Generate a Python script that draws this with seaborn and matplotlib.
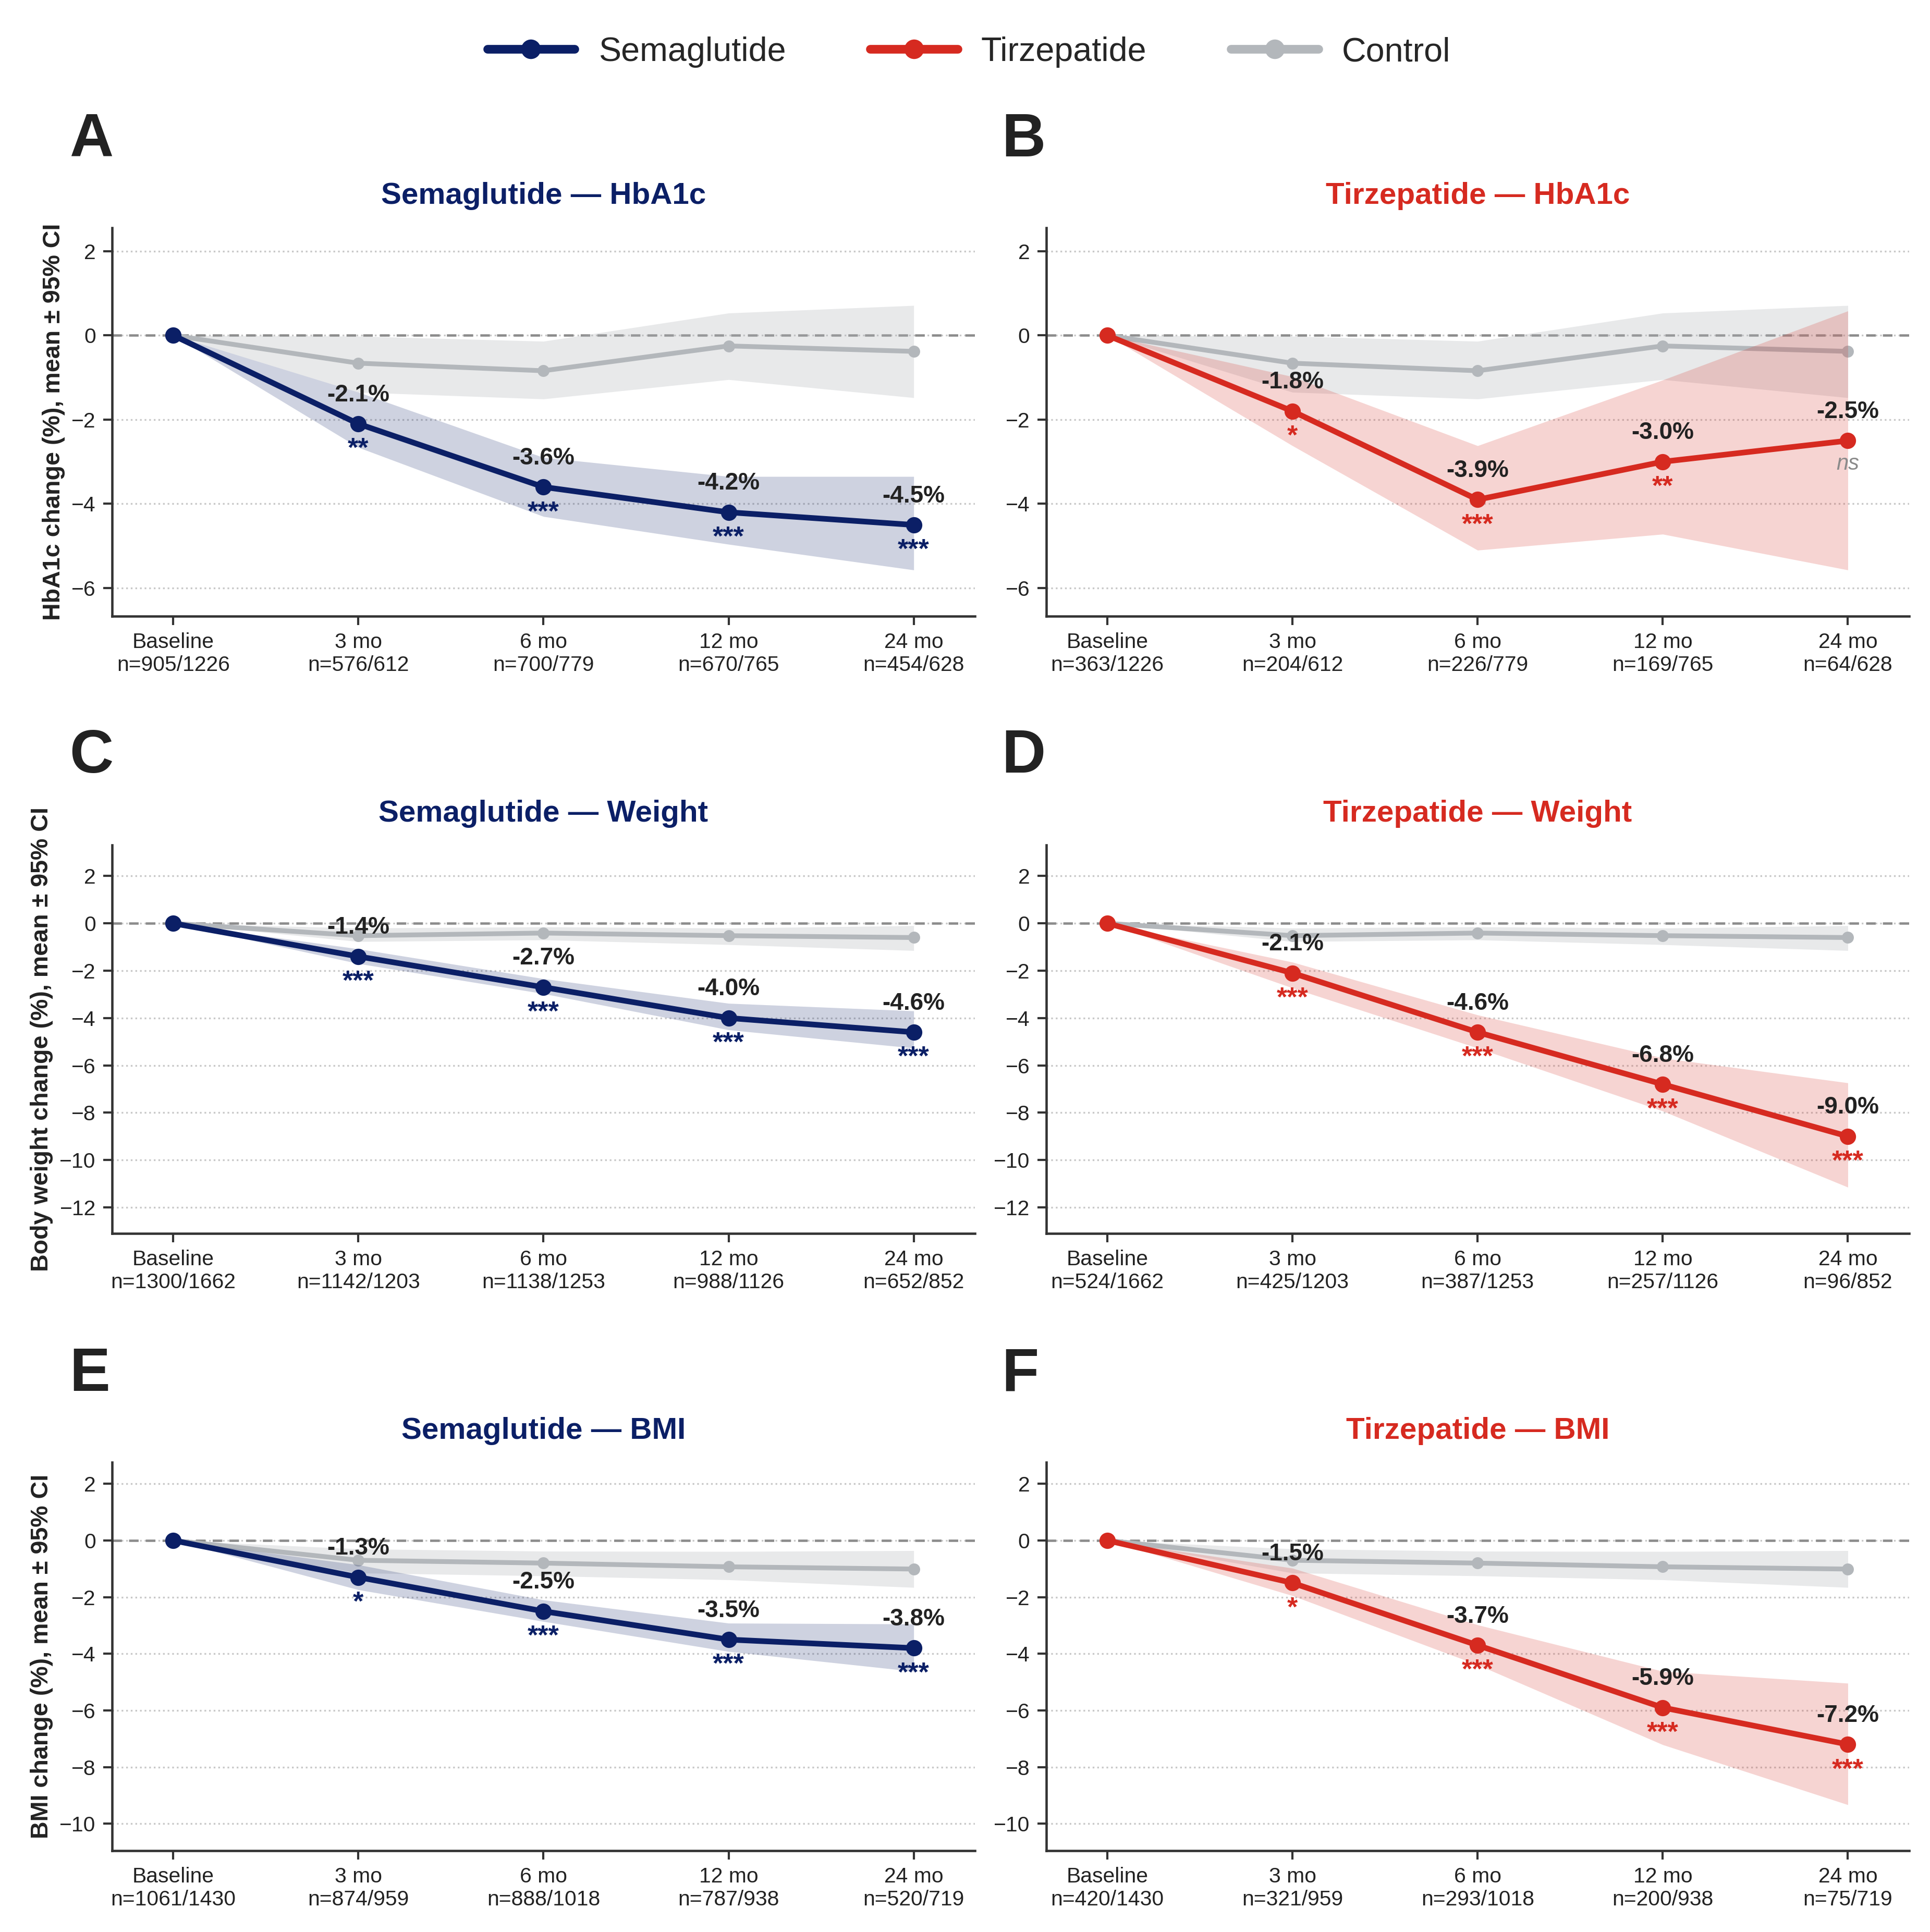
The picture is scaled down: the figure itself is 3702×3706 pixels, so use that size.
import numpy as np
import pandas as pd
import matplotlib
matplotlib.use("Agg")
import matplotlib.pyplot as plt
from matplotlib.lines import Line2D
import seaborn as sns

# ---- data ----
timepoints = ["Baseline", "3 mo", "6 mo", "12 mo", "24 mo"]

# HbA1c
sema_hba1c_n = ["905/1226", "576/612", "700/779", "670/765", "454/628"]
sema_hba1c_mean = [0, -2.1, -3.6, -4.2, -4.5]
sema_hba1c_lo = [0, -2.66, -4.30, -4.96, -5.57]
sema_hba1c_hi = [0, -1.35, -2.90, -3.35, -3.35]
sema_hba1c_sig = ["", "**", "***", "***", "***"]

tirz_hba1c_n = ["363/1226", "204/612", "226/779", "169/765", "64/628"]
tirz_hba1c_mean = [0, -1.8, -3.9, -3.0, -2.5]
tirz_hba1c_lo = [0, -2.62, -5.10, -4.72, -5.57]
tirz_hba1c_hi = [0, -0.98, -2.62, -1.06, 0.58]
tirz_hba1c_sig = ["", "*", "***", "**", "ns"]

ctrl_hba1c_mean = [0, -0.66, -0.84, -0.25, -0.38]
ctrl_hba1c_lo = [0, -1.35, -1.51, -1.05, -1.48]
ctrl_hba1c_hi = [0, -0.02, -0.14, 0.53, 0.71]

# Body weight
sema_weight_n = ["1300/1662", "1142/1203", "1138/1253", "988/1126", "652/852"]
sema_weight_mean = [0, -1.4, -2.7, -4.0, -4.6]
sema_weight_lo = [0, -1.70, -2.97, -4.50, -5.27]
sema_weight_hi = [0, -1.08, -2.34, -3.38, -3.70]
sema_weight_sig = ["", "***", "***", "***", "***"]

tirz_weight_n = ["524/1662", "425/1203", "387/1253", "257/1126", "96/852"]
tirz_weight_mean = [0, -2.1, -4.6, -6.8, -9.0]
tirz_weight_lo = [0, -2.73, -5.27, -7.93, -11.15]
tirz_weight_hi = [0, -1.64, -3.87, -5.69, -6.74]
tirz_weight_sig = ["", "***", "***", "***", "***"]

ctrl_weight_mean = [0, -0.52, -0.41, -0.52, -0.60]
ctrl_weight_lo = [0, -0.77, -0.70, -0.90, -1.15]
ctrl_weight_hi = [0, -0.20, -0.15, -0.20, -0.10]

# BMI
sema_bmi_n = ["1061/1430", "874/959", "888/1018", "787/938", "520/719"]
sema_bmi_mean = [0, -1.3, -2.5, -3.5, -3.8]
sema_bmi_lo = [0, -1.74, -2.86, -3.92, -4.62]
sema_bmi_hi = [0, -0.86, -2.10, -2.92, -2.95]
sema_bmi_sig = ["", "*", "***", "***", "***"]

tirz_bmi_n = ["420/1430", "321/959", "293/1018", "200/938", "75/719"]
tirz_bmi_mean = [0, -1.5, -3.7, -5.9, -7.2]
tirz_bmi_lo = [0, -1.95, -4.39, -7.21, -9.33]
tirz_bmi_hi = [0, -0.98, -2.98, -4.62, -5.04]
tirz_bmi_sig = ["", "*", "***", "***", "***"]

ctrl_bmi_mean = [0, -0.70, -0.80, -0.93, -1.01]
ctrl_bmi_lo = [0, -1.15, -1.25, -1.39, -1.66]
ctrl_bmi_hi = [0, -0.30, -0.38, -0.39, -0.36]

# ---- style ----
SEMA = "#0b1f66"
TIRZ = "#d62a20"
CTRL = "#b3b7bb"
INK = "#222222"

sns.set_theme(style="white")
plt.rcParams["font.family"] = ["Liberation Sans", "DejaVu Sans"]
plt.rcParams["axes.unicode_minus"] = True

fig = plt.figure(figsize=(3702 / 300, 3706 / 300), dpi=300)

lefts = [0.0581, 0.5421]
rows = [(0.681, 0.882), (0.3616, 0.5625), (0.0421, 0.243)]
letter_y = [0.942, 0.623, 0.303]
letter_x = [0.036, 0.519]

panels = [
    # row, col, letter, drug, color, metric, ylabel, mean, lo, hi, sig, n, ctrl arrays, ylim, yticks
    (0, 0, "A", "Semaglutide", SEMA, "HbA1c", "HbA1c change (%), mean ± 95% CI",
     sema_hba1c_mean, sema_hba1c_lo, sema_hba1c_hi, sema_hba1c_sig, sema_hba1c_n,
     ctrl_hba1c_mean, ctrl_hba1c_lo, ctrl_hba1c_hi, (-6.67, 2.55), range(-6, 3, 2)),
    (0, 1, "B", "Tirzepatide", TIRZ, "HbA1c", None,
     tirz_hba1c_mean, tirz_hba1c_lo, tirz_hba1c_hi, tirz_hba1c_sig, tirz_hba1c_n,
     ctrl_hba1c_mean, ctrl_hba1c_lo, ctrl_hba1c_hi, (-6.67, 2.55), range(-6, 3, 2)),
    (1, 0, "C", "Semaglutide", SEMA, "Weight", "Body weight change (%), mean ± 95% CI",
     sema_weight_mean, sema_weight_lo, sema_weight_hi, sema_weight_sig, sema_weight_n,
     ctrl_weight_mean, ctrl_weight_lo, ctrl_weight_hi, (-13.1, 3.3), range(-12, 3, 2)),
    (1, 1, "D", "Tirzepatide", TIRZ, "Weight", None,
     tirz_weight_mean, tirz_weight_lo, tirz_weight_hi, tirz_weight_sig, tirz_weight_n,
     ctrl_weight_mean, ctrl_weight_lo, ctrl_weight_hi, (-13.1, 3.3), range(-12, 3, 2)),
    (2, 0, "E", "Semaglutide", SEMA, "BMI", "BMI change (%), mean ± 95% CI",
     sema_bmi_mean, sema_bmi_lo, sema_bmi_hi, sema_bmi_sig, sema_bmi_n,
     ctrl_bmi_mean, ctrl_bmi_lo, ctrl_bmi_hi, (-10.95, 2.75), range(-10, 3, 2)),
    (2, 1, "F", "Tirzepatide", TIRZ, "BMI", None,
     tirz_bmi_mean, tirz_bmi_lo, tirz_bmi_hi, tirz_bmi_sig, tirz_bmi_n,
     ctrl_bmi_mean, ctrl_bmi_lo, ctrl_bmi_hi, (-10.95, 2.75), range(-10, 3, 2)),
]

x = np.arange(len(timepoints))

for (r, c, letter, drug, color, metric, ylabel, mean, lo, hi, sig, n,
     cmean, clo, chi, ylim, yticks) in panels:
    bottom, top = rows[r]
    ax = fig.add_axes([lefts[c], bottom, 0.447, top - bottom])

    ax.axhline(0, color="#8c8c8c", lw=1.1, ls=(0, (4, 3)), zorder=1)

    # control: band + line
    ctrl_df = pd.DataFrame({"x": x, "y": cmean})
    ax.fill_between(x, clo, chi, color=CTRL, alpha=0.3, lw=0, zorder=2)
    sns.lineplot(data=ctrl_df, x="x", y="y", ax=ax, color=CTRL, lw=2.2,
                 marker="o", markersize=5.5, markeredgewidth=0, zorder=3)

    # treatment: band + line
    df = pd.DataFrame({"x": x, "y": mean})
    ax.fill_between(x, lo, hi, color=color, alpha=0.2, lw=0, zorder=4)
    sns.lineplot(data=df, x="x", y="y", ax=ax, color=color, lw=2.6,
                 marker="o", markersize=7.5, markeredgewidth=0, zorder=5)

    for i in range(1, len(x)):
        ax.annotate(f"{mean[i]:.1f}%", (x[i], mean[i]), xytext=(0, 8),
                    textcoords="offset points", ha="center", va="bottom",
                    fontsize=11, fontweight="bold", color=INK, zorder=6)
        if sig[i] == "ns":
            ax.annotate("ns", (x[i], mean[i]), xytext=(0, -6),
                        textcoords="offset points", ha="center", va="top",
                        fontsize=10, fontstyle="italic", color="#8a8a8a", zorder=6)
        else:
            ax.annotate(sig[i], (x[i], mean[i]), xytext=(0, -6),
                        textcoords="offset points", ha="center", va="top",
                        fontsize=12.5, fontweight="bold", color=color, zorder=6)

    ax.set_xlim(-0.33, 4.33)
    ax.set_ylim(*ylim)
    ax.set_yticks(list(yticks))
    ax.set_xticks(x)
    ax.set_xticklabels([f"{t}\nn={nn}" for t, nn in zip(timepoints, n)])
    ax.set_xlabel("")
    ax.set_ylabel("")
    if ylabel:
        ax.set_ylabel(ylabel, fontsize=11.2, fontweight="bold", color=INK, labelpad=3)

    ax.yaxis.grid(True, ls=":", color="#c8c8c8", lw=0.8)
    ax.xaxis.grid(False)
    ax.set_axisbelow(True)
    for s in ["top", "right"]:
        ax.spines[s].set_visible(False)
    for s in ["left", "bottom"]:
        ax.spines[s].set_color("#333333")
        ax.spines[s].set_linewidth(1.1)
    ax.tick_params(axis="both", which="major", length=4, width=1, color="#333333",
                   labelsize=9.8, labelcolor=INK, direction="out", bottom=True, left=True)

    ax.set_title(f"{drug} — {metric}", fontsize=14, fontweight="bold",
                 color=color, pad=11)

    fig.text(letter_x[c], letter_y[r], letter, fontsize=28, fontweight="bold",
             color=INK, ha="left", va="top")

handles = [
    Line2D([0], [0], color=SEMA, lw=4, marker="o", markersize=9, markeredgewidth=0),
    Line2D([0], [0], color=TIRZ, lw=4, marker="o", markersize=9, markeredgewidth=0),
    Line2D([0], [0], color=CTRL, lw=4, marker="o", markersize=9, markeredgewidth=0),
]
fig.legend(handles, ["Semaglutide", "Tirzepatide", "Control"], loc="center",
           bbox_to_anchor=(0.502, 0.973), ncol=3, frameon=False, fontsize=15.5,
           handlelength=2.6, handletextpad=0.7, columnspacing=2.5)

fig.savefig("out.png", dpi=300)
